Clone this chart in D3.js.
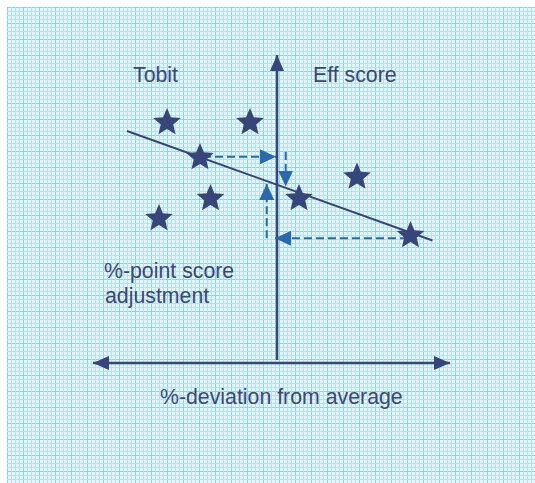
<!DOCTYPE html>
<html>
<head>
<meta charset="utf-8">
<script src="https://cdn.jsdelivr.net/npm/d3@7"></script>
<style>
  body { margin: 0; background: #fff; }
  text { font-family: "Liberation Sans", Arial, sans-serif; fill: #3a4878; }
</style>
</head>
<body>
<div id="chart"></div>
<script>
const width = 535;
const height = 483;

// star points, in %-deviation (x) and score (y) units
const starX = [-11, -2.7, -7.7, -11.8, -6.65, 2.2, 8, 13.35];
const starY = [24.2, 24.2, 20.7, 14.6, 16.6, 16.6, 18.75, 12.9];

// fitted Tobit line, two ends
const lineX = [-15, 15.55];
const lineY = [23.2, 12.25];

// dashed adjustment arrows: [x1, y1, x2, y2]
const adjArrows = [
  [-7.4, 20.63, -0.1, 20.63],
  [0.87, 21.1, 0.87, 17.65],
  [-1.03, 12.47, -1.03, 17.9],
  [13.1, 12.47, -0.2, 12.47]
];

const axisX = [-18.4, 17.3];
const axisY = [0, 30.8];

const labels = [
  { text: "Tobit", x: -14.4, y: 28.1 },
  { text: "Eff score", x: 3.6, y: 28.1 },
  { text: "%-point score", x: -17.3, y: 8.5 },
  { text: "adjustment", x: -17.2, y: 6.0 },
  { text: "%-deviation from average", x: -11.7, y: -4.1 }
];

const x = d3.scaleLinear().domain([-10, 10]).range([177, 377]);
const y = d3.scaleLinear().domain([0, 10]).range([363, 263]);

const navy = "#36467a";
const blue = "#2a68b0";

const svg = d3.select("#chart").append("svg")
  .attr("width", width)
  .attr("height", height);

const defs = svg.append("defs");

// graph paper
const pat = defs.append("pattern")
  .attr("id", "grid")
  .attr("patternUnits", "userSpaceOnUse")
  .attr("x", 7).attr("y", 7)
  .attr("width", 16).attr("height", 16);
pat.append("rect").attr("width", 16).attr("height", 16).attr("fill", "#e6f5fd");
d3.range(0, 16, 4).forEach(k => {
  const c = k === 0 ? "#8fd0f0" : "#b2e0f6";
  pat.append("line").attr("x1", k + 0.5).attr("x2", k + 0.5).attr("y1", 0).attr("y2", 16)
    .attr("stroke", c).attr("stroke-width", 1);
  pat.append("line").attr("y1", k + 0.5).attr("y2", k + 0.5).attr("x1", 0).attr("x2", 16)
    .attr("stroke", c).attr("stroke-width", 1);
});

svg.append("rect")
  .attr("x", 7).attr("y", 7)
  .attr("width", width - 7).attr("height", height - 7)
  .attr("fill", "url(#grid)");

function head(id, color, len, wid) {
  defs.append("marker")
    .attr("id", id)
    .attr("viewBox", `0 ${-wid / 2} ${len} ${wid}`)
    .attr("refX", len).attr("refY", 0)
    .attr("markerUnits", "userSpaceOnUse")
    .attr("markerWidth", len).attr("markerHeight", wid)
    .attr("orient", "auto-start-reverse")
    .append("path")
    .attr("d", `M0,${-wid / 2}L${len},0L0,${wid / 2}Z`)
    .attr("fill", color);
}
head("axHead", navy, 16, 14);
head("adjHead", blue, 16, 15);

// axes
svg.append("line")
  .attr("x1", x(axisX[0])).attr("x2", x(axisX[1]))
  .attr("y1", y(0)).attr("y2", y(0))
  .attr("stroke", navy).attr("stroke-width", 2.5)
  .attr("marker-start", "url(#axHead)")
  .attr("marker-end", "url(#axHead)");

svg.append("line")
  .attr("x1", x(0)).attr("x2", x(0))
  .attr("y1", y(axisY[0]) - 3).attr("y2", y(axisY[1]))
  .attr("stroke", navy).attr("stroke-width", 2.5)
  .attr("marker-end", "url(#axHead)");

// fitted line
svg.append("line")
  .attr("x1", x(lineX[0])).attr("y1", y(lineY[0]))
  .attr("x2", x(lineX[1])).attr("y2", y(lineY[1]))
  .attr("stroke", navy).attr("stroke-width", 2);

// dashed arrows
svg.selectAll(".adj")
  .data(adjArrows)
  .enter().append("line")
  .attr("class", "adj")
  .attr("x1", d => x(d[0])).attr("y1", d => y(d[1]))
  .attr("x2", d => x(d[2])).attr("y2", d => y(d[3]))
  .attr("stroke", blue).attr("stroke-width", 2)
  .attr("stroke-dasharray", "8,4")
  .attr("marker-end", "url(#adjHead)");

// stars
function starPath(ro, ri) {
  const pts = d3.range(10).map(i => {
    const a = -Math.PI / 2 + i * Math.PI / 5;
    const r = i % 2 === 0 ? ro : ri;
    return [r * Math.cos(a), r * Math.sin(a)];
  });
  return "M" + pts.join("L") + "Z";
}
const star = starPath(14.5, 6.6);

svg.selectAll(".star")
  .data(starX.map((v, i) => [v, starY[i]]))
  .enter().append("path")
  .attr("class", "star")
  .attr("transform", d => `translate(${x(d[0])},${y(d[1]) + 1.5})`)
  .attr("d", star)
  .attr("fill", navy);

// labels
svg.selectAll(".lbl")
  .data(labels)
  .enter().append("text")
  .attr("class", "lbl")
  .attr("x", d => x(d.x))
  .attr("y", d => y(d.y))
  .style("font-size", "21.3px")
  .text(d => d.text);
</script>
</body>
</html>
